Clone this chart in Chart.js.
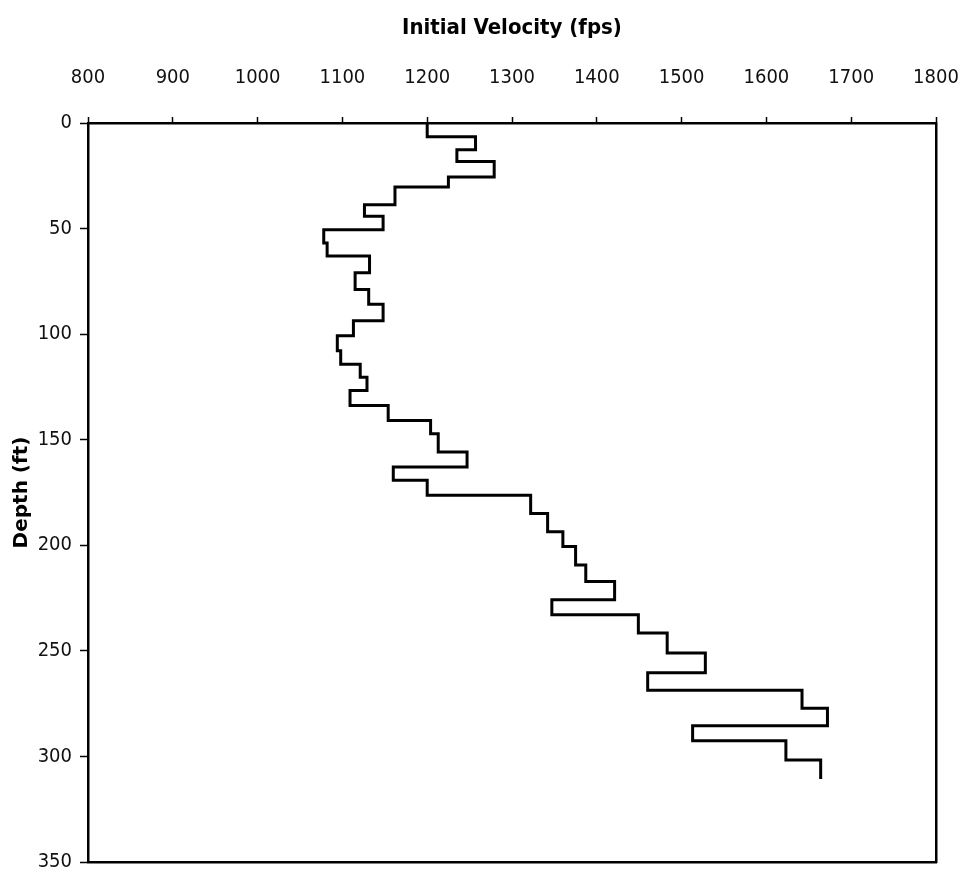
<!DOCTYPE html>
<html>
<head>
<meta charset="utf-8">
<title>Initial Velocity vs Depth</title>
<script src="https://cdn.jsdelivr.net/npm/chart.js@4.4.1/dist/chart.umd.min.js"></script>
<style>
    body { margin: 0; background: #fff; }
    #grafico { display: block; }
</style>
</head>
<body>
<canvas id="grafico" width="969" height="878"></canvas>
<script>
// top of each layer (ft) and the velocity in that layer (fps)
const depthTop = [0, 6.5, 12.7, 18.2, 25.6, 30.3, 38.7, 44.2, 50.5, 56.8,
    63.0, 70.9, 78.8, 85.8, 93.7, 100.8, 107.9, 114.2, 120.4, 126.7,
    133.8, 140.9, 147.2, 155.8, 162.9, 169.2, 176.3, 184.9, 193.6, 200.6,
    209.3, 217.1, 225.8, 232.9, 241.5, 251.0, 260.4, 268.7, 277.2, 285.5,
    292.6, 301.7];
const velocity = [1200, 1257, 1235, 1279, 1225, 1162, 1126, 1148, 1078, 1082,
    1132, 1115, 1131, 1148, 1113, 1094, 1098, 1121, 1129, 1109,
    1154, 1204, 1213, 1247, 1160, 1200, 1322, 1342, 1360, 1375,
    1387, 1421, 1347, 1449, 1483, 1528, 1460, 1642, 1672, 1513,
    1623, 1664];
const bottomDepth = 310.7;

const velocityTicks = [800, 900, 1000, 1100, 1200, 1300, 1400, 1500, 1600, 1700, 1800];
const depthTicks = [0, 50, 100, 150, 200, 250, 300, 350];

// points at the top of every layer, plus the bottom of the last one
var pontos = [];
for (var i = 0; i < depthTop.length; i++) {
    pontos.push({ x: velocity[i], y: depthTop[i] });
}
pontos.push({ x: velocity[velocity.length - 1], y: bottomDepth });

const fonteTicks = { family: "'Liberation Sans Narrow', 'DejaVu Sans Condensed', sans-serif", size: 20 };

function semSeparador(valor) {
    return String(valor);
}

new Chart(document.getElementById('grafico'), {
    type: 'scatter',
    data: {
        datasets: [{
            data: pontos,
            showLine: true,
            stepped: 'after',
            borderColor: '#000',
            borderWidth: 3,
            pointRadius: 0,
            fill: false,
            clip: false
        }]
    },
    options: {
        responsive: false,
        animation: false,
        layout: { padding: { top: 0, left: 0, right: 33, bottom: 16 } },
        plugins: {
            legend: { display: false },
            tooltip: { enabled: false }
        },
        scales: {
            x: {
                type: 'linear',
                position: 'top',
                min: velocityTicks[0],
                max: velocityTicks[velocityTicks.length - 1],
                afterBuildTicks: function (s) { s.ticks = velocityTicks.map(function (v) { return { value: v }; }); },
                afterFit: function (s) { s.height = 123; s.paddingLeft = 0; s.paddingRight = 0; },
                ticks: { color: '#111', font: fonteTicks, padding: 27, maxRotation: 0, autoSkip: false, callback: semSeparador },
                grid: { drawOnChartArea: false, drawTicks: true, tickLength: 6, color: '#000', tickWidth: 1.5 },
                border: { color: '#000', width: 2.5 },
                title: {
                    display: true,
                    text: 'Initial Velocity (fps)',
                    color: '#000',
                    font: { family: "'Liberation Sans Narrow', 'DejaVu Sans Condensed', sans-serif", size: 22, weight: 'bold' },
                    padding: { top: 15, bottom: 0 }
                }
            },
            y: {
                type: 'linear',
                position: 'left',
                reverse: true,
                min: depthTicks[0],
                max: depthTicks[depthTicks.length - 1],
                afterBuildTicks: function (s) { s.ticks = depthTicks.map(function (v) { return { value: v }; }); },
                afterFit: function (s) { s.width = 88; s.paddingTop = 0; s.paddingBottom = 0; },
                ticks: { color: '#111', font: fonteTicks, padding: 8, autoSkip: false, callback: semSeparador },
                grid: { drawOnChartArea: false, drawTicks: true, tickLength: 8, color: '#000', tickWidth: 1.5 },
                border: { color: '#000', width: 2.5 },
                title: {
                    display: true,
                    text: 'Depth (ft)',
                    color: '#000',
                    font: { family: "'DejaVu Sans', sans-serif", size: 20, weight: 'bold' },
                    padding: { top: 10, bottom: 0 }
                }
            },
            // only there to close the box on the right and bottom
            x2: {
                type: 'linear',
                position: 'bottom',
                min: 800,
                max: 1800,
                afterFit: function (s) { s.height = 0; s.paddingLeft = 0; s.paddingRight = 0; },
                ticks: { display: false },
                grid: { display: false },
                border: { color: '#000', width: 2.5 }
            },
            y2: {
                type: 'linear',
                position: 'right',
                min: 0,
                max: 350,
                afterFit: function (s) { s.width = 0; s.paddingTop = 0; s.paddingBottom = 0; },
                ticks: { display: false },
                grid: { display: false },
                border: { color: '#000', width: 2.5 }
            }
        }
    }
});
</script>
</body>
</html>
